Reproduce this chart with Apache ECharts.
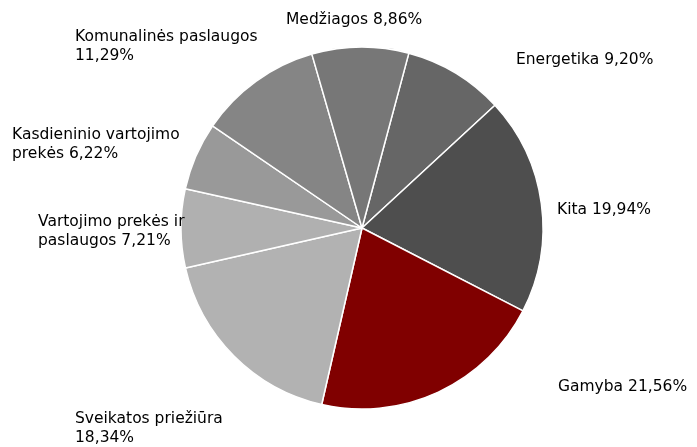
<!DOCTYPE html>
<html>
<head>
<meta charset="utf-8">
<script src="https://cdn.jsdelivr.net/npm/echarts@6/dist/echarts.min.js"></script>
<style>
html,body{margin:0;padding:0;background:#fff;}
#c{width:697px;height:447px;}
</style>
</head>
<body>
<div id="c"></div>
<script>
const categories = ['Energetika', 'Kita', 'Gamyba', 'Sveikatos priežiūra', 'Vartojimo prekės ir paslaugos', 'Kasdieninio vartojimo prekės', 'Komunalinės paslaugos', 'Medžiagos'];
const labelNames = ['Energetika', 'Kita', 'Gamyba', 'Sveikatos priežiūra\n', 'Vartojimo prekės ir\npaslaugos', 'Kasdieninio vartojimo\nprekės', 'Komunalinės paslaugos\n', 'Medžiagos'];
const values = [9.20, 19.94, 21.56, 18.34, 7.21, 6.22, 11.29, 8.86];
const colors = ['#666666', '#4e4e4e', '#800000', '#b2b2b2', '#b0b0b0', '#999999', '#858585', '#777777'];

// label layout (anchor x, y, align) per slice
const labelAnchors = [
  [516, 60, 'left'],
  [557, 210, 'left'],
  [558, 387, 'left'],
  [75, 428, 'left'],
  [38, 231, 'left'],
  [12, 144, 'left'],
  [75, 46, 'left'],
  [286, 20, 'left']
];

function fmt(v) { return v.toFixed(2).replace('.', ','); }

const data = categories.map((c, i) => ({
  name: c,
  value: values[i],
  itemStyle: { color: colors[i] },
  label: { formatter: labelNames[i] + (labelNames[i].endsWith('\n') ? '' : ' ') + fmt(values[i]) + '%' }
}));

const chart = echarts.init(document.getElementById('c'));
chart.setOption({
  backgroundColor: '#ffffff',
  animation: false,
  series: [{
    type: 'pie',
    center: [362, 228],
    radius: [0, 181],
    startAngle: 75,
    clockwise: true,
    avoidLabelOverlap: false,
    itemStyle: { borderColor: '#ffffff', borderWidth: 1.5 },
    label: {
      show: true,
      position: 'outside',
      color: '#000',
      fontFamily: 'DejaVu Sans',
      fontSize: 15.5,
      lineHeight: 19
    },
    labelLine: { show: false },
    labelLayout: function (p) {
      const a = labelAnchors[p.dataIndex];
      return { x: a[0], y: a[1], align: a[2], verticalAlign: 'middle' };
    },
    data: data
  }]
});
</script>
</body>
</html>
